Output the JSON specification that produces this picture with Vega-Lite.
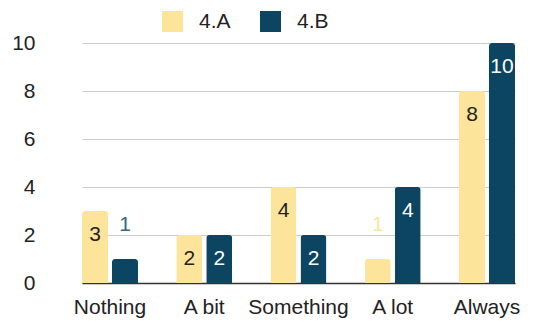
{
  "$schema": "https://vega.github.io/schema/vega-lite/v6.json",
  "width": 495,
  "height": 240,
  "autosize": {"type": "none"},
  "padding": {"left": 46, "top": 43, "right": 0, "bottom": 42},
  "background": "#ffffff",
  "config": {
    "font": "Liberation Sans",
    "view": {"stroke": null},
    "axis": {"labelFont": "Liberation Sans", "labelFontSize": 21, "labelColor": "#222222"}
  },
  "data": {
    "values": [
      {"category": "Nothing", "series": "4.A", "value": 3},
      {"category": "Nothing", "series": "4.B", "value": 1},
      {"category": "A bit", "series": "4.A", "value": 2},
      {"category": "A bit", "series": "4.B", "value": 2},
      {"category": "Something", "series": "4.A", "value": 4},
      {"category": "Something", "series": "4.B", "value": 2},
      {"category": "A lot", "series": "4.A", "value": 1},
      {"category": "A lot", "series": "4.B", "value": 4},
      {"category": "Always", "series": "4.A", "value": 8},
      {"category": "Always", "series": "4.B", "value": 10}
    ]
  },
  "encoding": {
    "x": {
      "field": "category",
      "type": "nominal",
      "sort": ["Nothing", "A bit", "Something", "A lot", "Always"],
      "scale": {"range": [36, 469], "paddingInner": 0.406, "paddingOuter": 0},
      "axis": {
        "title": null,
        "labelAngle": 0,
        "ticks": false,
        "labelPadding": 13,
        "domainColor": "#333333",
        "domainWidth": 1.5
      }
    },
    "xOffset": {
      "field": "series",
      "type": "nominal",
      "scale": {"paddingInner": 0.133, "paddingOuter": 0}
    },
    "y": {
      "field": "value",
      "type": "quantitative",
      "scale": {"domain": [0, 10], "nice": false},
      "axis": {
        "title": null,
        "values": [0, 2, 4, 6, 8, 10],
        "ticks": false,
        "domain": false,
        "labelPadding": 11,
        "gridColor": "#cccccc",
        "gridWidth": 1
      }
    }
  },
  "layer": [
    {
      "mark": {"type": "bar", "cornerRadiusTopLeft": 3, "cornerRadiusTopRight": 3},
      "encoding": {
        "color": {
          "field": "series",
          "type": "nominal",
          "scale": {"domain": ["4.A", "4.B"], "range": ["#FDE49B", "#0B4562"]},
          "legend": {
            "title": null,
            "orient": "none",
            "direction": "horizontal",
            "legendX": 116,
            "legendY": -32,
            "symbolType": "square",
            "symbolSize": 441,
            "symbolStrokeWidth": 0,
            "labelFontSize": 21,
            "labelFont": "Liberation Sans",
            "labelColor": "#222222",
            "labelOffset": 16,
            "columnPadding": 29
          }
        }
      }
    },
    {
      "transform": [{"filter": "datum.value >= 2"}],
      "mark": {"type": "text", "baseline": "middle", "dy": 24, "fontSize": 21},
      "encoding": {
        "text": {"field": "value", "type": "quantitative"},
        "color": {
          "condition": {"test": "datum.series === '4.A'", "value": "#222222"},
          "value": "#ffffff"
        }
      }
    },
    {
      "transform": [{"filter": "datum.value < 2"}],
      "mark": {"type": "text", "baseline": "middle", "dy": -34, "fontSize": 21},
      "encoding": {
        "text": {"field": "value", "type": "quantitative"},
        "color": {
          "condition": {"test": "datum.series === '4.A'", "value": "#FCE6A2"},
          "value": "#2F6A8A"
        }
      }
    }
  ]
}
